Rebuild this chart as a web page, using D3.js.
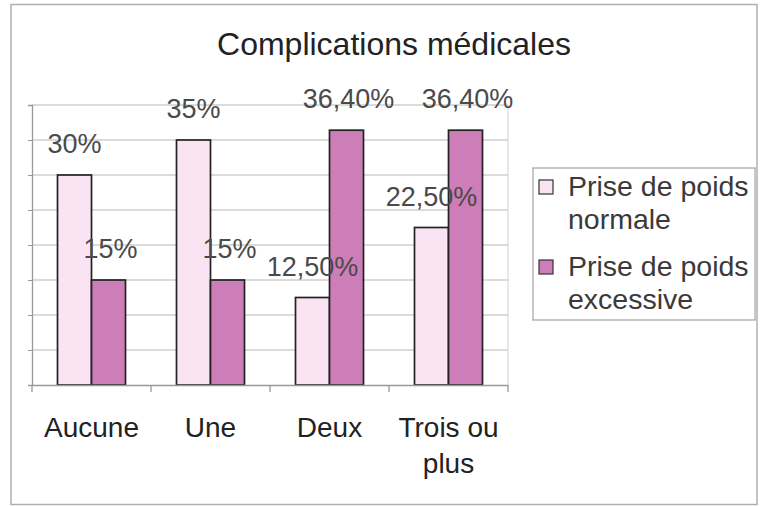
<!DOCTYPE html>
<html>
<head>
<meta charset="utf-8">
<script src="https://cdn.jsdelivr.net/npm/d3@7"></script>
<style>
  body { margin: 0; background: #fff; }
  #chart { width: 760px; height: 506px; }
  text { font-family: "Liberation Sans", Arial, sans-serif; }
</style>
</head>
<body>
<div id="chart"></div>
<script>
// Données
const categories = ['Aucune', 'Une', 'Deux', 'Trois ou plus'];
const categoryLines = [['Aucune'], ['Une'], ['Deux'], ['Trois ou', 'plus']];
const seriesNames = ['Prise de poids normale', 'Prise de poids excessive'];
const normale = [30, 35, 12.5, 22.5];
const excessive = [15, 15, 36.4, 36.4];
const labelsNormale = ['30%', '35%', '12,50%', '22,50%'];
const labelsExcessive = ['15%', '15%', '36,40%', '36,40%'];
const yTicks = [0, 5, 10, 15, 20, 25, 30, 35, 40];

const COLOR_NORMALE = '#fae4f3',
      COLOR_EXCESSIVE = '#cd7db7';

let svg = d3.select('#chart').append('svg')
    .attr('width', 760)
    .attr('height', 506);

// Cadre extérieur
svg.append('rect')
    .attr('x', 11).attr('y', 4.5)
    .attr('width', 746).attr('height', 500)
    .attr('fill', 'none')
    .attr('stroke', '#b0b0b0')
    .attr('stroke-width', 1.5);

// Titre
svg.append('text')
    .attr('x', 394).attr('y', 55)
    .attr('text-anchor', 'middle')
    .attr('font-size', 32)
    .attr('fill', '#222')
    .text('Complications médicales');

let margin = {top: 105, left: 32, right: 252, bottom: 121},
    width = 760 - margin.left - margin.right,
    height = 506 - margin.top - margin.bottom;

let g = svg.append('g')
    .attr('transform', 'translate(' + margin.left + ',' + margin.top + ')');

let x = d3.scaleBand()
    .domain(categories)
    .range([0, width])
    .paddingInner(0)
    .paddingOuter(0);

let y = d3.scaleLinear()
    .domain([0, 40])
    .range([height, 0]);

// Quadrillage
g.append('g')
    .selectAll('line')
    .data(yTicks.filter(d => d > 0))
    .enter()
    .append('line')
    .attr('x1', 0).attr('x2', width)
    .attr('y1', d => y(d)).attr('y2', d => y(d))
    .attr('stroke', '#b8b8b8')
    .attr('stroke-width', 1.2);

// Bord droit de la zone de tracé
g.append('line')
    .attr('x1', width).attr('x2', width)
    .attr('y1', 0).attr('y2', height)
    .attr('stroke', '#d0d0d0');

// Axe vertical (sans étiquettes)
g.append('g')
    .call(d3.axisLeft(y).tickValues(yTicks).tickSize(4).tickFormat(''))
    .call(a => a.select('.domain').attr('stroke', '#999').attr('stroke-width', 1.3))
    .call(a => a.selectAll('.tick line').attr('stroke', '#999'));

let barW = 34;

let data = categories.map((c, i) => ({
    cat: c, values: [normale[i], excessive[i]], labels: [labelsNormale[i], labelsExcessive[i]]
}));

let groups = g.selectAll('.grp')
    .data(data)
    .enter()
    .append('g')
    .attr('class', 'grp')
    .attr('transform', d => 'translate(' + (x(d.cat) + x.bandwidth() / 2) + ',0)');

groups.selectAll('rect')
    .data(d => d.values.map((v, j) => ({v: v, j: j})))
    .enter()
    .append('rect')
    .attr('x', d => d.j === 0 ? -barW : 0)
    .attr('y', d => y(d.v))
    .attr('width', barW)
    .attr('height', d => height - y(d.v))
    .attr('fill', d => d.j === 0 ? COLOR_NORMALE : COLOR_EXCESSIVE)
    .attr('stroke', '#222')
    .attr('stroke-width', 1.7);

// Étiquettes de données
groups.selectAll('.lbl')
    .data(d => d.values.map((v, j) => ({v: v, j: j, t: d.labels[j]})))
    .enter()
    .append('text')
    .attr('class', 'lbl')
    .attr('x', d => d.j === 0 ? -barW / 2 : barW / 2 + 2)
    .attr('y', d => y(d.v) - 22)
    .attr('text-anchor', 'middle')
    .attr('font-size', 27)
    .attr('fill', '#4a4a4a')
    .text(d => d.t);

// Axe horizontal
g.append('g')
    .attr('transform', 'translate(0,' + height + ')')
    .call(d3.axisBottom(x).tickSize(0).tickFormat(''))
    .call(a => a.select('.domain').attr('stroke', '#999').attr('stroke-width', 1.3));

g.append('g')
    .selectAll('line')
    .data(d3.range(categories.length + 1))
    .enter()
    .append('line')
    .attr('x1', i => i * x.step()).attr('x2', i => i * x.step())
    .attr('y1', height).attr('y2', height + 7)
    .attr('stroke', '#999')
    .attr('stroke-width', 1.3);

let catText = g.append('g')
    .selectAll('text')
    .data(categories)
    .enter()
    .append('text')
    .attr('x', d => x(d) + x.bandwidth() / 2)
    .attr('y', height + 52)
    .attr('text-anchor', 'middle')
    .attr('font-size', 28)
    .attr('fill', '#222');

catText.selectAll('tspan')
    .data((d, i) => categoryLines[i])
    .enter()
    .append('tspan')
    .attr('x', function() { return d3.select(this.parentNode).attr('x'); })
    .attr('dy', (d, i) => i === 0 ? 0 : 36)
    .text(d => d);

// Légende
let legend = svg.append('g');
legend.append('rect')
    .attr('x', 533).attr('y', 168)
    .attr('width', 222).attr('height', 152)
    .attr('fill', '#fff')
    .attr('stroke', '#aaa')
    .attr('stroke-width', 1.3);

let legendLines = [['Prise de poids', 'normale'], ['Prise de poids', 'excessive']];
let legendColors = [COLOR_NORMALE, COLOR_EXCESSIVE];

seriesNames.forEach((s, i) => {
    let top = 196 + i * 80;
    legend.append('rect')
        .attr('x', 539).attr('y', top - 16)
        .attr('width', 14).attr('height', 14)
        .attr('fill', legendColors[i])
        .attr('stroke', '#333')
        .attr('stroke-width', 1.2);
    let t = legend.append('text')
        .attr('x', 568).attr('y', top)
        .attr('font-size', 28.5)
        .attr('fill', '#3a3a3a');
    legendLines[i].forEach((l, k) => {
        t.append('tspan')
            .attr('x', 568)
            .attr('dy', k === 0 ? 0 : 33)
            .text(l);
    });
});
</script>
</body>
</html>
